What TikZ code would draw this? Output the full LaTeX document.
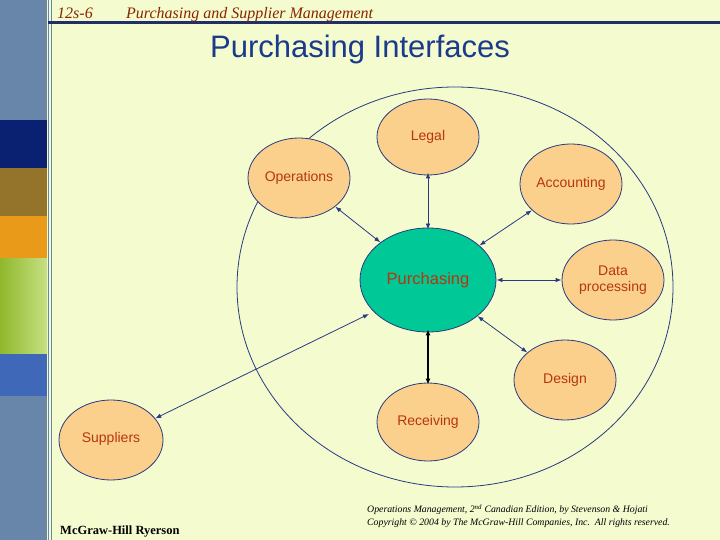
\documentclass[tikz,border=0pt]{standalone}
\usepackage{fontspec}
\setmainfont{Liberation Serif}
\setsansfont{Liberation Sans}
\usetikzlibrary{arrows.meta,shapes.geometric}
\definecolor{bg}{HTML}{F3FBCF}
\definecolor{barblue}{HTML}{6786AA}
\definecolor{navy}{HTML}{0A2070}
\definecolor{brownb}{HTML}{94742A}
\definecolor{orangeb}{HTML}{E89A18}
\definecolor{greenb}{HTML}{A0CC30}
\definecolor{blueb}{HTML}{4068B8}
\definecolor{peach}{HTML}{FAD08C}
\definecolor{teal}{HTML}{00C896}
\definecolor{lbl}{HTML}{B8360C}
\definecolor{edge}{HTML}{2A3A80}
\definecolor{titlec}{HTML}{1C3A8C}
\definecolor{hdr}{HTML}{8B2500}
\tikzset{
  bub/.style={ellipse,draw=edge,line width=0.8pt,fill=peach,inner sep=0pt,text=lbl,font=\sffamily\fontsize{14}{16}\selectfont,align=center},
  link/.style={draw=edge,line width=0.8pt,{Latex[length=6pt,width=4.5pt]}-{Latex[length=6pt,width=4.5pt]}}
}
\begin{document}
\begin{tikzpicture}[x=1pt,y=-1pt]
\useasboundingbox (0,0) rectangle (720,540);
\fill[bg] (0,0) rectangle (720,540);
\fill[barblue] (0,0) rectangle (47,540);
\fill[navy] (0,120) rectangle (47,168);
\fill[brownb] (0,168) rectangle (47,216);
\fill[orangeb] (0,216) rectangle (47,258);
\fill[left color=greenb!90!black,right color=greenb!60!white] (0,258) rectangle (47,354);
\fill[blueb] (0,354) rectangle (47,396);
\draw[barblue,line width=0.8pt] (48.5,0) -- (48.5,540);
\draw[barblue,line width=0.8pt] (51,0) -- (51,540);
\fill[edge!80!black] (48,21.5) rectangle (720,24.5);
\node[anchor=base west,text=hdr,font=\itshape\fontsize{16}{18}\selectfont,inner sep=0pt] (pg) at (57,19) {12s-6};
\node[anchor=base west,text=hdr,font=\itshape\fontsize{16}{18}\selectfont,inner sep=0pt] (hd) at (126,19) {Purchasing and Supplier Management};
\node[text=titlec,font=\sffamily\fontsize{31}{34}\selectfont] (title) at (360,49) {Purchasing Interfaces};
\draw[edge,line width=0.8pt] (455,287) ellipse [x radius=218,y radius=200];
\node[ellipse,draw=edge,line width=0.8pt,fill=teal,minimum width=136pt,minimum height=104pt,text=lbl,font=\sffamily\fontsize{16.5}{19}\selectfont] (pur) at (428,280) {Purchasing};
\node[bub,minimum width=102pt,minimum height=76pt] (legal) at (428,137) {Legal};
\node[bub,minimum width=102pt,minimum height=80pt] (ops) at (299,178) {\raisebox{1pt}{Operations}};
\node[bub,minimum width=102pt,minimum height=80pt] (acc) at (571,184) {Accounting};
\node[bub,minimum width=102pt,minimum height=80pt] (dp) at (613,280) {Data\\processing};
\node[bub,minimum width=102pt,minimum height=80pt] (des) at (565,380) {Design};
\node[bub,minimum width=102pt,minimum height=78pt] (rec) at (428,422) {\raisebox{1pt}{Receiving}};
\node[bub,minimum width=104pt,minimum height=80pt] (sup) at (111,440) {\raisebox{6pt}{Suppliers}};
\draw[link] (ops) -- (pur);
\draw[link] ([yshift=3pt]legal.south) -- ([yshift=-2pt]pur.north);
\draw[link] (acc) -- (pur);
\draw[link] (dp) -- (pur);
\draw[link] (des) -- (pur);
\draw[line width=1.6pt,{Latex[length=6pt,width=5pt]}-{Latex[length=6pt,width=5pt]}] ([yshift=3pt]pur.south) -- ([yshift=-2pt]rec.north);
\draw[link] (sup) -- ([shift={(-59,34)}]pur.center);
\node[anchor=base west,font=\bfseries\fontsize{12.5}{14}\selectfont,inner sep=0pt] (mh) at (60,534) {Mc{G}raw-Hill Ryerson};
\node[anchor=west,font=\itshape\fontsize{9.8}{13}\selectfont,align=left,inner sep=0pt] (foot) at (367,516) {Operations Management, 2\textsuperscript{nd} Canadian Edition, by Stevenson \& Hojati\\Copyright \textcopyright{} 2004 by The McGraw-Hill Companies, Inc.\ \ All rights reserved.};
\end{tikzpicture}
\end{document}
